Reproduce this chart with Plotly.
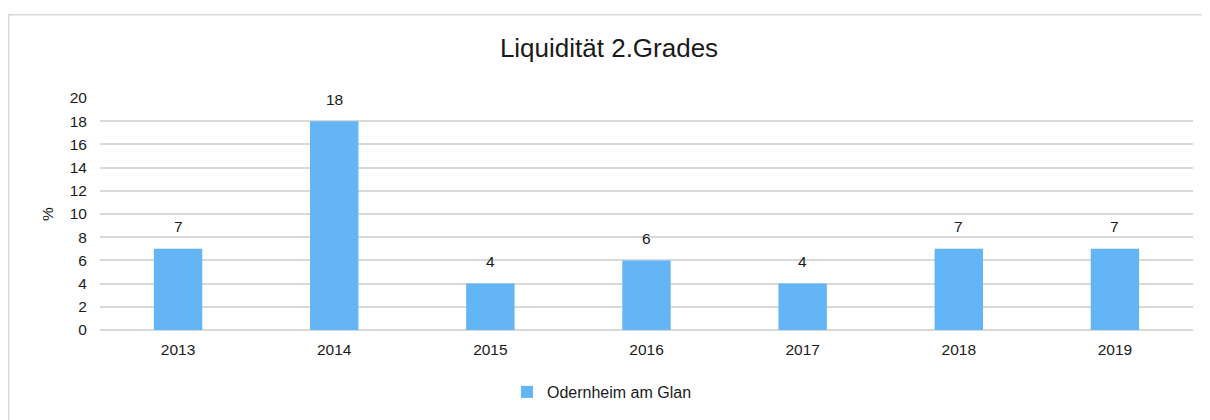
import plotly.graph_objects as go

years = ["2013", "2014", "2015", "2016", "2017", "2018", "2019"]
values = [7, 18, 4, 6, 4, 7, 7]
series_name = "Odernheim am Glan"
title = "Liquidität 2.Grades"

# page body has an 8px margin; figure coordinates = reference pixels - 8
W, H = 1202, 412
L, R, T, B = 92, 17, 90, 89
pw, ph = W - L - R, H - T - B

def px_x(x):
    return (x - L) / pw

def px_y(y):
    return (H - B - y) / ph

FS = 15.5
TXT = "#1a1a1a"

fig = go.Figure()
fig.add_trace(go.Bar(
    x=years, y=values, name=series_name,
    marker=dict(color="#63B5F5", line=dict(width=0)),
    showlegend=True,
))

# numeric-looking category names are read as indices by annotations, so use the index
for i, v in enumerate(values):
    fig.add_annotation(x=i, y=v, xref="x", yref="y", text=str(v), showarrow=False,
                       yanchor="middle", yshift=22,
                       font=dict(size=FS, color=TXT))

fig.update_layout(
    width=W, height=H,
    margin=dict(l=L, r=R, t=T, b=B),
    paper_bgcolor="white", plot_bgcolor="white",
    font=dict(family="Liberation Sans, Arial, sans-serif", size=FS, color=TXT),
    title=dict(text=title, x=0.5, xanchor="center", y=1 - 40 / H, yanchor="middle",
               font=dict(size=26, color=TXT)),
    bargap=0.69,
    xaxis=dict(type="category", range=[-0.5, len(years) - 0.5], autorange=False,
               showgrid=False, showline=False,
               ticks="outside", ticklen=5, tickcolor="rgba(0,0,0,0)",
               tickfont=dict(size=FS)),
    yaxis=dict(range=[0, 20], autorange=False, dtick=2, showgrid=True, gridcolor="#d9d9d9", gridwidth=1.8,
               zeroline=True, zerolinecolor="#d9d9d9", zerolinewidth=1.8,
               showline=False, ticks="outside", ticklen=9, tickcolor="rgba(0,0,0,0)",
               tickfont=dict(size=FS),
               title=dict(text="%", font=dict(size=FS), standoff=12)),
    legend=dict(orientation="h", x=px_x(499), xanchor="left", y=px_y(384), yanchor="middle",
                font=dict(size=16)),
    showlegend=True,
)

fig.add_shape(type="rect", xref="paper", yref="paper",
              x0=px_x(0.75), x1=px_x(1230), y0=px_y(6.5), y1=px_y(440),
              line=dict(color="#d9d9d9", width=1.5), fillcolor="rgba(0,0,0,0)", layer="below")

fig.write_html("out.html")
